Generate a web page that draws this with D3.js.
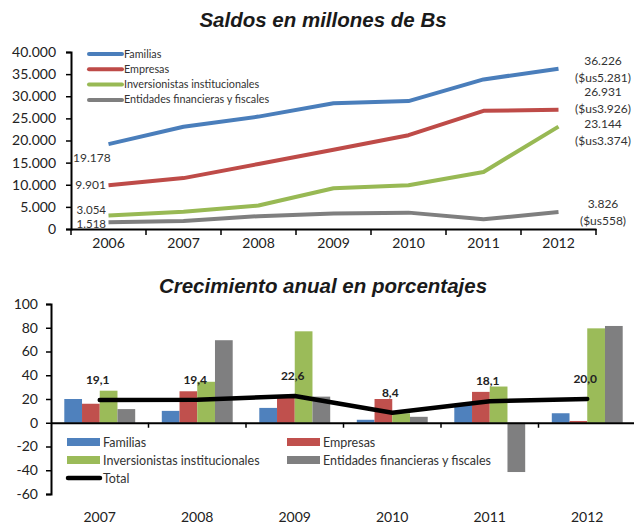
<!DOCTYPE html>
<html>
<head>
<meta charset="utf-8">
<script src="https://cdn.jsdelivr.net/npm/d3@7"></script>
<style>
  body { margin: 0; background: #fff; }
  text { font-family: Lato, "Open Sans", sans-serif; }
</style>
</head>
<body>
<script>
// --- datos: saldos (millones de Bs)
var years1 = ["2006", "2007", "2008", "2009", "2010", "2011", "2012"]
var familias = [19178, 23100, 25400, 28400, 28900, 33800, 36226]
var empresas = [9901, 11500, 14700, 17900, 21200, 26700, 26931]
var inversionistas = [3054, 3900, 5300, 9200, 9900, 12900, 23144]
var entidades = [1518, 1800, 2900, 3500, 3700, 2200, 3826]
var startLabels = ["19.178", "9.901", "3.054", "1.518"]
var endLabels = [["36.226", "($us5.281)"], ["26.931", "($us3.926)"], ["23.144", "($us3.374)"], ["3.826", "($us558)"]]
var seriesNames = ["Familias", "Empresas", "Inversionistas institucionales", "Entidades financieras y fiscales"]

// --- datos: crecimiento anual (%)
var years2 = ["2007", "2008", "2009", "2010", "2011", "2012"]
var crecFamilias = [20, 10, 12.5, 2.5, 15, 8]
var crecEmpresas = [16, 26.5, 21, 20, 26, 1.5]
var crecInversionistas = [27, 34.5, 77, 8, 30.5, 79.5]
var crecEntidades = [11.5, 69.5, 22, 5, -41.5, 81.5]
var crecTotal = [19.1, 19.4, 22.6, 8.4, 18.1, 20.0]
var totalLabels = ["19,1", "19,4", "22,6", "8,4", "18,1", "20,0"]

var lineColors = ["#4a7ebb", "#be4b48", "#98b954", "#7f7f7f"]
var barColors = ["#4f81bd", "#c0504d", "#9bbb59", "#7f7f80"]

var locale = d3.formatLocale({decimal: ",", thousands: ".", grouping: [3], currency: ["", ""], minus: "-"})
var fmt = locale.format(",")

var svg = d3.select("body").append("svg")
  .attr("width", 634)
  .attr("height", 524)

// ================= grafico 1 =================
svg.append("text")
  .attr("x", 323).attr("y", 27)
  .attr("text-anchor", "middle")
  .style("font-family", "'Liberation Sans', Arial, sans-serif")
  .style("font-weight", "bold").style("font-style", "italic")
  .style("font-size", "20.5px").attr("fill", "#1a1a1a")
  .text("Saldos en millones de Bs")

var x1 = d3.scaleBand().domain(years1).range([71, 596])
var y1 = d3.scaleLinear().domain([0, 40000]).range([229, 52])

var g1 = svg.append("g")

var yAxis1 = g1.append("g")
  .attr("transform", "translate(71,0)")
  .call(d3.axisLeft(y1).tickValues(d3.range(0, 40001, 5000)).tickSize(5).tickFormat(fmt))
yAxis1.select(".domain").attr("stroke-width", 2)
yAxis1.selectAll(".tick line").attr("stroke-width", 1.5)
yAxis1.selectAll("text").style("font-size", "14px").attr("fill", "#222").attr("x", -15)

var xAxis1 = g1.append("g")
  .attr("transform", "translate(0,229)")
  .call(d3.axisBottom(x1).tickSize(0))
xAxis1.select(".domain").attr("stroke-width", 2)
xAxis1.selectAll("text").style("font-size", "14px").attr("fill", "#222").attr("dy", "1.15em")
g1.selectAll(".xb1")
  .data(years1.concat(["end"]))
  .enter().append("line")
  .attr("x1", function(d) { return d == "end" ? x1.range()[1] : x1(d) })
  .attr("x2", function(d) { return d == "end" ? x1.range()[1] : x1(d) })
  .attr("y1", 229).attr("y2", 235)
  .attr("stroke", "#000").attr("stroke-width", 1.5)

var series1 = [familias, empresas, inversionistas, entidades]
var line1 = d3.line()
  .x(function(d, i) { return x1(years1[i]) + x1.bandwidth() / 2 })
  .y(function(d) { return y1(d) })

g1.selectAll(".serie")
  .data(series1)
  .enter().append("path")
  .attr("d", line1)
  .attr("fill", "none")
  .attr("stroke", function(d, i) { return lineColors[i] })
  .attr("stroke-width", 4)
  .attr("stroke-linejoin", "round")

// etiquetas de inicio
var startPos = [[73, 162, "start"], [106, 189, "end"], [106, 214, "end"], [106, 228, "end"]]
g1.selectAll(".lblIni")
  .data(startLabels)
  .enter().append("text")
  .attr("x", function(d, i) { return startPos[i][0] })
  .attr("y", function(d, i) { return startPos[i][1] })
  .attr("text-anchor", function(d, i) { return startPos[i][2] })
  .style("font-size", function(d, i) { return i > 1 ? "11.5px" : "12px" }).attr("fill", "#333")
  .text(function(d) { return d })

// etiquetas finales
var endY = [65, 96, 128, 208]
endLabels.forEach(function(pair, i) {
  g1.append("text").attr("x", 603).attr("y", endY[i])
    .attr("text-anchor", "middle").style("font-size", "12px").attr("fill", "#333")
    .text(pair[0])
  g1.append("text").attr("x", 603).attr("y", endY[i] + 16.5)
    .attr("text-anchor", "middle").style("font-size", "12px").attr("fill", "#333")
    .text(pair[1])
})

// leyenda 1
var leg1 = g1.selectAll(".leg1")
  .data(seriesNames)
  .enter().append("g")
  .attr("transform", function(d, i) { return "translate(0," + (54 + i * 15.3) + ")" })
leg1.append("line")
  .attr("x1", 89).attr("x2", 122)
  .attr("stroke", function(d, i) { return lineColors[i] })
  .attr("stroke-width", 4).attr("stroke-linecap", "round")
leg1.append("text")
  .attr("x", 124).attr("y", 3.5)
  .style("font-size", "10.8px").attr("fill", "#333")
  .text(function(d) { return d })

// ================= grafico 2 =================
svg.append("text")
  .attr("x", 323).attr("y", 293)
  .attr("text-anchor", "middle")
  .style("font-family", "'Liberation Sans', Arial, sans-serif")
  .style("font-weight", "bold").style("font-style", "italic")
  .style("font-size", "20.5px").attr("fill", "#1a1a1a")
  .text("Crecimiento anual en porcentajes")

var x2 = d3.scaleBand().domain(years2).range([51, 636])
var y2 = d3.scaleLinear().domain([-60, 100]).range([494, 304])
var xs = d3.scaleBand().domain(seriesNames).range([0, x2.bandwidth()]).paddingOuter(0.75)

var g2 = svg.append("g")

var series2 = [crecFamilias, crecEmpresas, crecInversionistas, crecEntidades]
var bars = []
series2.forEach(function(arr, s) {
  arr.forEach(function(v, i) { bars.push({year: years2[i], serie: seriesNames[s], s: s, v: v}) })
})

g2.selectAll("rect.bar")
  .data(bars)
  .enter().append("rect")
  .attr("class", "bar")
  .attr("x", function(d) { return x2(d.year) + xs(d.serie) })
  .attr("width", xs.bandwidth())
  .attr("y", function(d) { return y2(Math.max(0, d.v)) })
  .attr("height", function(d) { return Math.abs(y2(d.v) - y2(0)) })
  .attr("fill", function(d) { return barColors[d.s] })

var yAxis2 = g2.append("g")
  .attr("transform", "translate(51,0)")
  .call(d3.axisLeft(y2).tickValues(d3.range(-60, 101, 20)).tickSize(5).tickFormat(locale.format("d")))
yAxis2.select(".domain").attr("stroke-width", 2)
yAxis2.selectAll(".tick line").attr("stroke-width", 1.5)
yAxis2.selectAll("text").style("font-size", "14px").attr("fill", "#222").attr("x", -13)

var xAxis2 = g2.append("g")
  .attr("transform", "translate(0," + y2(0) + ")")
  .call(d3.axisBottom(x2).tickSize(0).tickFormat(""))
xAxis2.select(".domain").attr("stroke-width", 2)
g2.selectAll(".xb2")
  .data(years2.slice(1))
  .enter().append("line")
  .attr("x1", function(d) { return x2(d) }).attr("x2", function(d) { return x2(d) })
  .attr("y1", y2(0)).attr("y2", y2(0) + 5)
  .attr("stroke", "#000").attr("stroke-width", 1.5)
g2.selectAll(".yr2")
  .data(years2)
  .enter().append("text")
  .attr("x", function(d) { return x2(d) + x2.bandwidth() / 2 })
  .attr("y", 522)
  .attr("text-anchor", "middle")
  .style("font-size", "14px").attr("fill", "#222")
  .text(function(d) { return d })

var line2 = d3.line()
  .x(function(d, i) { return x2(years2[i]) + x2.bandwidth() / 2 })
  .y(function(d) { return y2(d) })
g2.append("path")
  .datum(crecTotal)
  .attr("d", line2)
  .attr("fill", "none").attr("stroke", "#000")
  .attr("stroke-width", 4.5).attr("stroke-linejoin", "round").attr("stroke-linecap", "round")

g2.selectAll(".tlbl")
  .data(totalLabels)
  .enter().append("text")
  .attr("x", function(d, i) { return x2(years2[i]) + x2.bandwidth() / 2 - 2 })
  .attr("y", function(d, i) { return y2(crecTotal[i]) - 16 })
  .attr("text-anchor", "middle")
  .style("font-size", "12px").style("font-weight", "bold").attr("fill", "#222")
  .text(function(d) { return d })

// leyenda 2
var legPos = [[67, 442], [287, 442], [67, 460], [287, 460]]
var leg2 = g2.selectAll(".leg2")
  .data(seriesNames)
  .enter().append("g")
  .attr("transform", function(d, i) { return "translate(" + legPos[i][0] + "," + legPos[i][1] + ")" })
leg2.append("rect")
  .attr("x", 0).attr("y", -4).attr("width", 33).attr("height", 8)
  .attr("fill", function(d, i) { return barColors[i] })
leg2.append("text")
  .attr("x", 36).attr("y", 4.5)
  .style("font-size", "12.5px").attr("fill", "#333")
  .text(function(d) { return d })

g2.append("line")
  .attr("x1", 68).attr("x2", 100).attr("y1", 478).attr("y2", 478)
  .attr("stroke", "#000").attr("stroke-width", 4.5).attr("stroke-linecap", "round")
g2.append("text")
  .attr("x", 103).attr("y", 482.5)
  .style("font-size", "12.5px").attr("fill", "#333")
  .text("Total")
</script>
</body>
</html>
